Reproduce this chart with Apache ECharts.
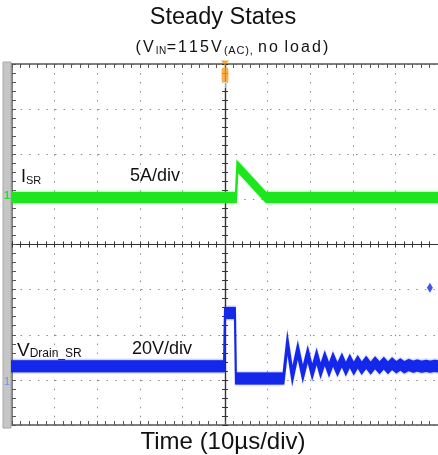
<!DOCTYPE html>
<html>
<head>
<meta charset="utf-8">
<script src="https://cdn.jsdelivr.net/npm/echarts@6/dist/echarts.min.js"></script>
<style>
  html, body { margin: 0; padding: 0; background: #fff; }
  #chart { width: 438px; height: 455px; }
</style>
</head>
<body>
<div id="chart"></div>
<script>
// time in µs (10 µs/div), vertical position in screen divisions (-4..4)
const isrTime = [-50, 2.56, 2.91, 9.65, 50];
const isrDiv  = [1.04, 1.04, 1.73, 1.04, 1.04];

const vdsTime = [-50, -0.23, 0, 2.33, 2.56, 13.72,
  14.65, 15.81, 17.09, 18.26, 19.42, 20.47, 21.51, 22.44, 23.42, 24.42,
  25.35, 26.40, 27.44, 28.37, 29.30, 30.23, 31.16, 32.09, 33.14, 34.19,
  35.23, 36.28, 37.28, 38.26, 39.23, 40.23, 41.16, 42.10, 43.14, 44.19,
  45.12, 46.16, 47.21, 48.14, 49.19, 50];
const vdsDiv = [-2.70, -2.70, -1.52, -1.52, -2.97, -2.97,
  -2.18, -2.91, -2.34, -2.87, -2.43, -2.83, -2.48, -2.80, -2.52, -2.78,
  -2.54, -2.77, -2.56, -2.76, -2.58, -2.75, -2.60, -2.74, -2.61, -2.74,
  -2.62, -2.73, -2.63, -2.73, -2.64, -2.72, -2.66, -2.72, -2.67, -2.71,
  -2.68, -2.71, -2.69, -2.71, -2.69, -2.70];

// markers: trigger point (top) and trigger level (right edge)
const triggerTime = 0;
const triggerLevel = [48.1, -0.96];

const GREEN = "#1ee61e";
const BLUE = "#1428eb";
const FRAME = "#555";
const FONT = "Liberation Sans";

const chart = echarts.init(document.getElementById("chart"));

// noisy scope trace drawn as a band around the signal
function traceSeries(name, times, values, color, half) {
  return {
    name, type: "custom", xAxisIndex: 0, yAxisIndex: 0, silent: true, z: 3,
    data: times.map((t, i) => [t, values[i]]),
    renderItem: (params, api) => {
      if (params.dataIndex !== 0) return;
      const pts = times.map((t, i) => api.coord([t, values[i]]));
      const band = h => pts.map(p => [p[0], p[1] - h])
        .concat(pts.slice().reverse().map(p => [p[0], p[1] + h]));
      return {
        type: "group",
        children: [
          { type: "polygon", shape: { points: band(half + 1.5) }, style: { fill: color, opacity: 0.35, stroke: color, lineWidth: 2.5, strokeOpacity: 0.35 } },
          { type: "polygon", shape: { points: band(half) }, style: { fill: color, stroke: color, lineWidth: 2 } }
        ]
      };
    }
  };
}

// per-character tokens to get the wide letter spacing of the original subtitle
function spaced(str, tok) {
  return str.split("").map(c => "{" + tok + "|" + c + "}").join("");
}

const dotsH = { color: "#8c8c8c", width: 1, type: [1.5, 7.1] };
const dotsV = { color: "#8c8c8c", width: 1, type: [1.5, 7.52] };

function xAx(extra) {
  return Object.assign({
    type: "value", min: -50, max: 50, interval: 10,
    axisLabel: { show: false }, splitLine: { show: false },
    axisLine: { onZero: false, lineStyle: { color: FRAME, width: 1.5 } },
    axisTick: { inside: true, length: 4, lineStyle: { color: FRAME } },
    minorTick: { show: true, splitNumber: 5, length: 4, lineStyle: { color: FRAME } }
  }, extra);
}
function yAx(extra) {
  return Object.assign({
    type: "value", min: -4, max: 4, interval: 1,
    axisLabel: { show: false }, splitLine: { show: false },
    axisLine: { onZero: false, lineStyle: { color: FRAME, width: 1.5 } },
    axisTick: { inside: true, length: 4, lineStyle: { color: FRAME } },
    minorTick: { show: true, splitNumber: 5, length: 4, lineStyle: { color: FRAME } }
  }, extra);
}
const centerLine = { onZero: true, onZeroAxisIndex: 0, lineStyle: { color: "#333", width: 1.2 } };
const cTick = inside => ({ inside, length: 3, lineStyle: { color: "#333" } });
const cMinor = { show: true, splitNumber: 5, length: 3, lineStyle: { color: "#333" } };

const subRich = {
  m: { fontSize: 16, fontFamily: FONT, fill: "#111", lineHeight: 19, verticalAlign: "bottom", padding: [0, 2.1, 0, 0] },
  s: { fontSize: 10, fontFamily: FONT, fill: "#111", lineHeight: 13, verticalAlign: "bottom", padding: [0, 0.5, 0, 0] },
  s2: { fontSize: 11, fontFamily: FONT, fill: "#111", lineHeight: 13, verticalAlign: "bottom", padding: [0, 0.8, 0, 0] },
  sp: { fontSize: 16, fontFamily: FONT, fill: "#111", lineHeight: 19, verticalAlign: "bottom" }
};

const option = {
  animation: false,
  backgroundColor: "#fff",
  grid: { left: 12, top: 64, width: 430, height: 361 },
  xAxis: [
    xAx({ position: "bottom", splitLine: { show: true, lineStyle: dotsV } }),
    xAx({ position: "top" }),
    xAx({ position: "bottom", axisLine: centerLine, axisTick: cTick(true), minorTick: cMinor }),
    xAx({ position: "bottom", axisLine: centerLine, axisTick: cTick(false), minorTick: cMinor })
  ],
  yAxis: [
    yAx({ position: "left", splitLine: { show: true, lineStyle: dotsH } }),
    yAx({ position: "left", axisLine: centerLine, axisTick: cTick(true), minorTick: cMinor }),
    yAx({ position: "left", axisLine: centerLine, axisTick: cTick(false), minorTick: cMinor })
  ],
  series: [
    traceSeries("ISR", isrTime, isrDiv, GREEN, 4.5),
    traceSeries("VDrain_SR", vdsTime, vdsDiv, BLUE, 5),
    {
      type: "scatter", xAxisIndex: 0, yAxisIndex: 0, silent: true, z: 5, clip: false,
      data: [[triggerTime, 4]],
      symbol: "triangle", symbolRotate: 180, symbolSize: [8, 5], symbolOffset: [0, -1],
      itemStyle: { color: "#f29000" }
    },
    {
      type: "scatter", xAxisIndex: 0, yAxisIndex: 0, silent: true, z: 5, clip: false,
      data: [[triggerTime, 4]],
      symbol: "roundRect", symbolSize: [7, 15], symbolOffset: [0, 11],
      itemStyle: { color: "#f7a020" },
      label: { show: true, position: "inside", offset: [0, 11], formatter: "T", color: "#fff", fontSize: 9, fontWeight: "bold", fontFamily: FONT }
    },
    {
      type: "scatter", xAxisIndex: 0, yAxisIndex: 0, silent: true, z: 5, clip: false,
      data: [triggerLevel],
      symbol: "diamond", symbolSize: [6, 10],
      itemStyle: { color: BLUE }
    }
  ],
  graphic: [
    { type: "rect", z: 1, shape: { x: 3, y: 62, width: 8, height: 366 }, style: { fill: "#c6c6c6", stroke: "#a8a8a8", lineWidth: 1 } },
    { type: "text", z: 10, left: 4, top: 190, style: { text: "1", fill: GREEN, font: "bold 11px " + FONT } },
    { type: "text", z: 10, left: 4, top: 376, style: { text: "1", fill: "#6f8cff", font: "11px " + FONT } },
    { type: "text", x: 223, y: 6, style: { text: "Steady States", fill: "#111", font: "23.5px " + FONT, align: "center", verticalAlign: "top" } },
    { type: "text", x: 233, y: 37, style: {
        text: spaced("(V", "m") + spaced("IN", "s") + spaced("=115V", "m") + spaced("(AC),", "s2")
          + "{sp| }" + spaced("no", "m") + "{sp| }" + spaced("load)", "m"),
        align: "center", verticalAlign: "top", rich: subRich } },
    { type: "text", z: 10, x: 21, y: 166, style: {
        text: "{m|I}{s|SR}", rich: {
          m: { fontSize: 18, fontFamily: FONT, fill: "#111", lineHeight: 20, verticalAlign: "bottom" },
          s: { fontSize: 11, fontFamily: FONT, fill: "#111", lineHeight: 14, verticalAlign: "bottom" }
        } } },
    { type: "text", z: 10, x: 130, y: 167, style: { text: "5A/div", fill: "#111", font: "18px " + FONT } },
    { type: "text", z: 10, x: 17, y: 340, style: {
        text: "{m|V}{s|Drain_SR}", rich: {
          m: { fontSize: 19, fontFamily: FONT, fill: "#111", lineHeight: 20, verticalAlign: "bottom" },
          s: { fontSize: 12, fontFamily: FONT, fill: "#111", lineHeight: 14, verticalAlign: "bottom" }
        } } },
    { type: "text", z: 10, x: 132, y: 340, style: { text: "20V/div", fill: "#111", font: "18px " + FONT } },
    { type: "text", x: 223, y: 430, style: { text: "Time (10µs/div)", fill: "#111", font: "24px " + FONT, align: "center", verticalAlign: "top" } }
  ]
};

chart.setOption(option);
</script>
</body>
</html>
